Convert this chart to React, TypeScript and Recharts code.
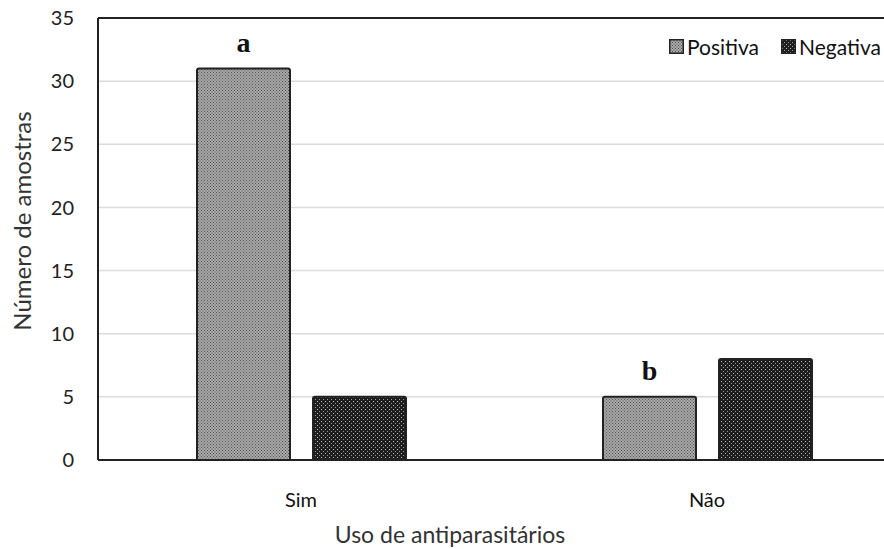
import React from "react";
import {
  Bar,
  BarChart,
  CartesianGrid,
  Label,
  LabelList,
  ReferenceLine,
  XAxis,
  YAxis,
} from "recharts";

const categories = ["Sim", "Não"];
const positiva = [31, 5];
const negativa = [5, 8];
const letters = ["a", "b"];
const yTicks = [0, 5, 10, 15, 20, 25, 30, 35];
const seriesNames = ["Positiva", "Negativa"];

const data = categories.map((name, i) => ({
  name,
  Positiva: positiva[i],
  Negativa: negativa[i],
  letter: letters[i],
}));

const FONT = "Lato, 'Open Sans', sans-serif";

function LegendSwatch({ pat }: { pat: string }) {
  return (
    <svg width={15} height={15} style={{ marginRight: 3 }}>
      <rect x={0.75} y={0.75} width={13.5} height={13.5} fill={`url(#${pat})`} stroke="#222" strokeWidth={1.5} />
    </svg>
  );
}

export default function App() {
  return (
    <div
      style={{
        position: "absolute",
        left: 0,
        top: 0,
        width: 884,
        height: 549,
        overflow: "hidden",
        background: "#fff",
      }}
    >
      <BarChart
        width={920}
        height={549}
        data={data}
        barSize={93}
        barGap={23}
        margin={{ top: 18, right: 10, left: 0, bottom: 59 }}
      >
        <defs>
          <pattern id="posPat" width="3" height="3" patternUnits="userSpaceOnUse">
            <rect width="3" height="3" fill="#a8a8a8" />
            <rect x="0" y="0" width="1" height="1" fill="#555" />
            <rect x="1.5" y="1.5" width="1" height="1" fill="#555" />
          </pattern>
          <pattern id="negPat" width="4" height="4" patternUnits="userSpaceOnUse">
            <rect width="4" height="4" fill="#1e1e1e" />
            <rect x="1" y="1" width="1" height="1" fill="#bbb" />
            <rect x="3" y="3" width="1" height="1" fill="#999" />
          </pattern>
        </defs>
        <CartesianGrid vertical={false} stroke="#dcdcdc" strokeWidth={1.5} />
        <XAxis
          dataKey="name"
          axisLine={{ stroke: "#222", strokeWidth: 2 }}
          tickLine={false}
          tickSize={0}
          tickMargin={33}
          tick={{ fontSize: 20, fill: "#111", fontFamily: FONT }}
        >
          <Label
            value="Uso de antiparasitários"
            position="bottom"
            offset={37}
            dx={-54}
            style={{ fontSize: 23, fill: "#333", fontFamily: FONT }}
          />
        </XAxis>
        <YAxis
          domain={[0, 35]}
          ticks={yTicks}
          interval={0}
          width={98}
          axisLine={{ stroke: "#222", strokeWidth: 2 }}
          tickLine={false}
          tickSize={0}
          tickMargin={24}
          tick={{ fontSize: 20, fill: "#222", fontFamily: FONT }}
        >
          <Label
            value="Número de amostras"
            angle={-90}
            position="insideLeft"
            offset={22}
            dy={-18}
            style={{ fontSize: 24, fill: "#333", fontFamily: FONT, textAnchor: "middle" }}
          />
        </YAxis>
        <ReferenceLine y={35} stroke="#222" strokeWidth={2} />
        <Bar
          dataKey="Positiva"
          fill="url(#posPat)"
          stroke="#222"
          strokeWidth={2}
          radius={[2, 2, 0, 0]}
          isAnimationActive={false}
        >
          <LabelList
            dataKey="letter"
            position="top"
            offset={17}
            style={{ fontSize: 28, fontWeight: "bold", fill: "#111", fontFamily: "'Liberation Serif', serif" }}
          />
        </Bar>
        <Bar
          dataKey="Negativa"
          fill="url(#negPat)"
          stroke="#222"
          strokeWidth={2}
          radius={[2, 2, 0, 0]}
          isAnimationActive={false}
        />
      </BarChart>
      <div
        style={{
          position: "absolute",
          top: 34,
          right: 3,
          display: "flex",
          alignItems: "center",
          fontFamily: FONT,
          fontSize: 21,
          color: "#111",
          background: "#fff",
        }}
      >
        {seriesNames.map((n, i) => (
          <span key={n} style={{ display: "flex", alignItems: "center", marginLeft: i ? 22 : 0 }}>
            <LegendSwatch pat={i ? "negPat" : "posPat"} />
            {n}
          </span>
        ))}
      </div>
    </div>
  );
}
